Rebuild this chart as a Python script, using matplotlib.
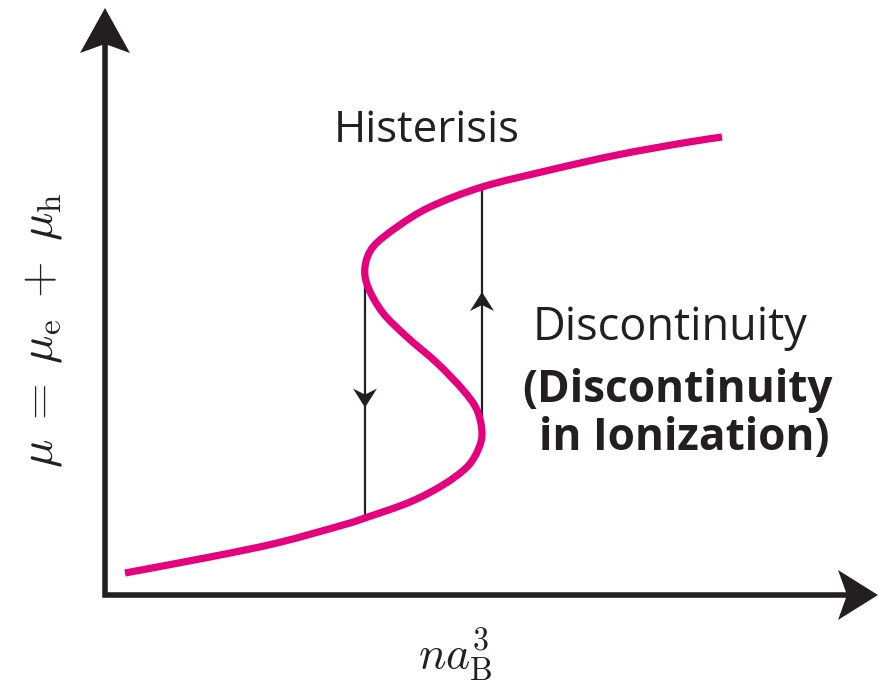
import numpy as np
import matplotlib
matplotlib.use("Agg")
import matplotlib.pyplot as plt
from matplotlib.patches import Polygon, PathPatch
from matplotlib.path import Path

plt.rc("mathtext", fontset="cm")

# S-shaped curve: density on x, chemical potential on y (schematic units)
curve_x = [20, 105, 172, 238, 260, 305, 338, 362, 373, 377, 372, 358, 332,
           302, 278, 263, 260, 268, 292, 325, 377, 445, 512, 578, 617]
curve_y = [22, 38, 52, 70, 77, 93, 110, 128, 145, 162, 185, 205, 232,
           258, 282, 308, 328, 348, 368, 388, 408, 425, 440, 452, 458]

# vertical jumps of the hysteresis loop
jump_x = [260, 377]
jump_from = [328, 158]
jump_to = [77, 408]
head_frac = [0.56, 0.58]

ink = "#231F20"
magenta = "#E5007E"

fig = plt.figure(figsize=(8.79, 6.91), dpi=100)
ax = fig.add_axes([0, 0, 1, 1])
ax.set_xlim(-105, 774)
ax.set_ylim(-96, 595)
ax.axis("off")


def head(tip, direction, length, width, notch):
    d = np.asarray(direction, float)
    d /= np.hypot(*d)
    n = np.array([-d[1], d[0]])
    tip = np.asarray(tip, float)
    back = tip - length * d
    pts = [tip, back + n * width / 2, tip - (length - notch) * d, back - n * width / 2]
    ax.add_patch(Polygon(pts, closed=True, facecolor=ink, edgecolor="none"))


def smooth_path(xs, ys):
    # cubic Bezier segments passing through every point (Catmull-Rom tangents)
    p = np.column_stack([xs, ys]).astype(float)
    p = np.vstack([p[0], p, p[-1]])
    verts, codes = [p[1]], [Path.MOVETO]
    for i in range(1, len(p) - 2):
        c1 = p[i] + (p[i + 1] - p[i - 1]) / 6
        c2 = p[i + 1] - (p[i + 2] - p[i]) / 6
        verts += [c1, c2, p[i + 1]]
        codes += [Path.CURVE4] * 3
    return Path(verts, codes)


# axes with arrowheads
y_tip, x_tip = 587, 773
ax.plot([0, 0, x_tip - 30], [y_tip - 30, 0, 0], color=ink, lw=4.0,
        solid_joinstyle="miter", solid_capstyle="butt")
head((0, y_tip), (0, 1), 45, 50, 9)
head((x_tip, 0), (1, 0), 40, 50, 9)

# hysteresis jumps
for x0, y0, y1, f in zip(jump_x, jump_from, jump_to, head_frac):
    ax.plot([x0, x0], [y0, y1], color=ink, lw=1.6, solid_capstyle="butt")
    ytip = y0 + f * (y1 - y0)
    head((x0, ytip), (0, np.sign(y1 - y0)), 19, 24, 6)

ax.add_patch(PathPatch(smooth_path(curve_x, curve_y), facecolor="none",
                       edgecolor=magenta, lw=5.2, capstyle="butt",
                       joinstyle="round", zorder=3))

ax.text(322, 453, "Histerisis", fontsize=31.5, family="Open Sans", color=ink,
        ha="center", va="baseline")
ax.text(565, 255, "Discontinuity", fontsize=32.5, family="Open Sans", color=ink,
        ha="center", va="baseline")
ax.text(573, 193, "(Discontinuity", fontsize=31.8, family="Open Sans",
        weight="bold", color=ink, ha="center", va="baseline")
ax.text(579, 145, "in Ionization)", fontsize=31.8, family="Open Sans",
        weight="bold", color=ink, ha="center", va="baseline")

ax.text(-62, 265, r"$\mu\;=\;\mu_\mathrm{e}\;+\;\mu_\mathrm{h}$", fontsize=34,
        rotation=90, color=ink, ha="center", va="center")
ax.text(350, -60, r"$na_\mathrm{B}^3$", fontsize=33, color=ink,
        ha="center", va="center")

fig.savefig("out.png", dpi=100)
